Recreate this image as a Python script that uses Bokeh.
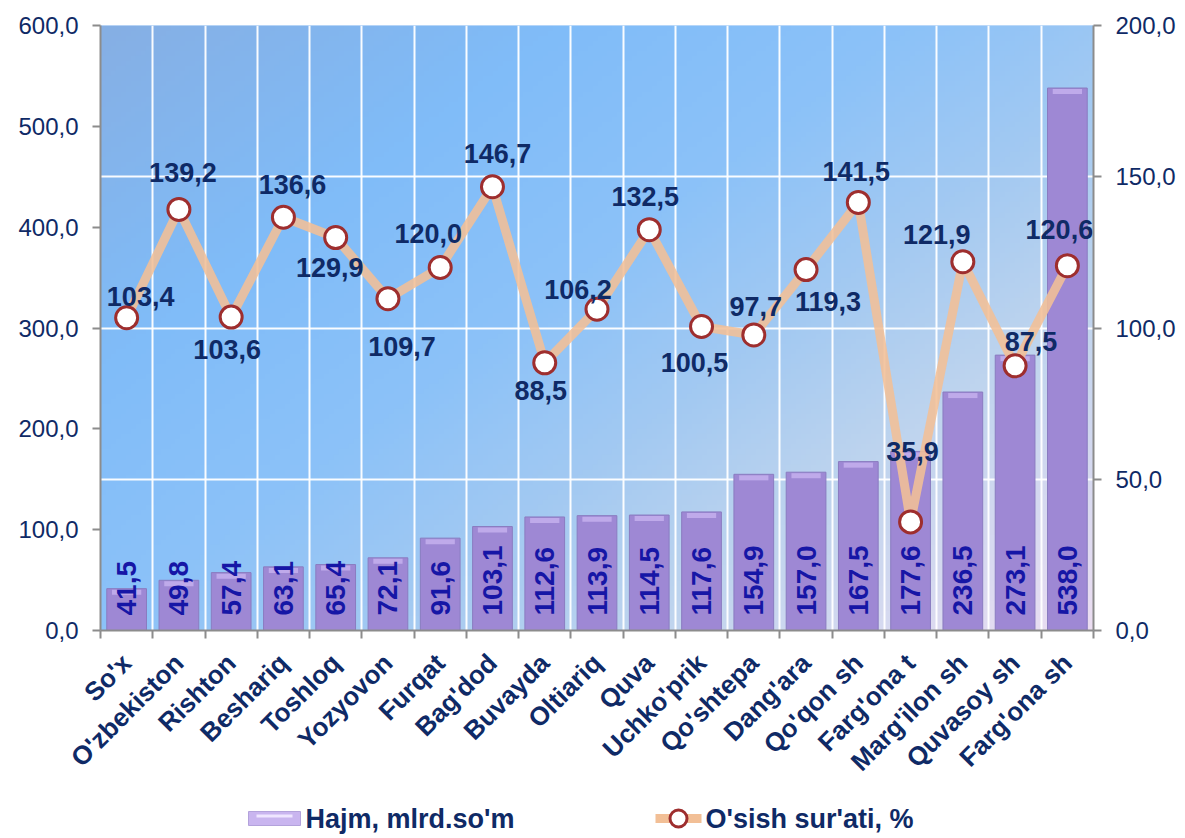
import numpy as np
from bokeh.plotting import figure
from bokeh.layouts import column
from bokeh.models import Range1d, LinearAxis, FixedTicker, ColumnDataSource
from bokeh.core.properties import value
from bokeh.embed import file_html
from bokeh.resources import INLINE

# ---------------- data ----------------
categories = ["So'x", "O'zbekiston", "Rishton", "Beshariq", "Toshloq", "Yozyovon",
              "Furqat", "Bag'dod", "Buvayda", "Oltiariq", "Quva", "Uchko'prik",
              "Qo'shtepa", "Dang'ara", "Qo'qon sh", "Farg'ona t", "Marg'ilon sh",
              "Quvasoy sh", "Farg'ona sh"]
volume = [41.5, 49.8, 57.4, 63.1, 65.4, 72.1, 91.6, 103.1, 112.6, 113.9, 114.5,
          117.6, 154.9, 157.0, 167.5, 177.6, 236.5, 273.1, 538.0]
growth = [103.4, 139.2, 103.6, 136.6, 129.9, 109.7, 120.0, 146.7, 88.5, 106.2,
          132.5, 100.5, 97.7, 119.3, 141.5, 35.9, 121.9, 87.5, 120.6]
left_ticks = [0, 100, 200, 300, 400, 500, 600]
right_ticks = [0, 50, 100, 150, 200]
series_names = ["Hajm, mlrd.so'm", "O'sish sur'ati, %"]

# label placement (screen px offsets) for the growth labels
label_dx = [14, 4, -4, 9, -6, 14, -12, 5, -4, -19, -4, -7, 2, 22, -2, 2, -26, 16, -8]
label_dy = [-21, -37, 32, -33, 30, 48, -34, -33, 28, -20, -33, 36, -28, 32, -31, -70, -27, -24, -36]

FONT = "Liberation Sans"
NAVY = "#0f2a66"
LINE_C = "#f2bf96"
BAR_C = "#9e88d4"


def fmt(v):
    return f"{v:.1f}".replace(".", ",")


n = len(categories)
xs = list(range(n))

W, H = 1180, 790
FRAME_L, FRAME_R = 100, 1093
p = figure(width=W, height=H, output_backend="svg", toolbar_location=None,
           x_range=Range1d(-0.5, n - 0.5), y_range=Range1d(0, 600),
           min_border_left=FRAME_L, min_border_right=W - FRAME_R, min_border_top=25,
           min_border_bottom=H - 632)
p.extra_y_ranges = {"right": Range1d(0, 200)}
p.outline_line_color = None
p.background_fill_color = "#8fbff5"
p.border_fill_color = "white"

# gradient background (style only)
ny, nx = 120, 200
u = np.linspace(0, 1, nx)[None, :]
vdown = np.linspace(1, 0, ny)[:, None]   # row 0 = bottom
t = 0.55 * u + 0.45 * vdown
stops_t = [0.0, 0.25, 0.45, 0.6, 0.75, 1.0]
stops_c = [(134, 175, 228), (128, 188, 248), (140, 194, 248), (162, 201, 242),
           (190, 212, 238), (236, 222, 242)]
img = np.empty((ny, nx), dtype=np.uint32)
view = img.view(dtype=np.uint8).reshape((ny, nx, 4))
for ch in range(3):
    view[:, :, ch] = np.interp(t, stops_t, [c[ch] for c in stops_c]).astype(np.uint8)
view[:, :, 3] = 255
p.image_rgba(image=[img], x=-0.5, y=0, dw=n, dh=600, level="image")

# grids
p.ygrid.ticker = FixedTicker(ticks=[150, 300, 450, 600])
p.xgrid.ticker = FixedTicker(ticks=[i + 0.5 for i in range(n - 1)])
for g in (p.xgrid[0], p.ygrid[0]):
    g.grid_line_color = "white"
    g.grid_line_width = 2
    g.grid_line_alpha = 0.95

# axes
p.yaxis.ticker = FixedTicker(ticks=left_ticks)
p.yaxis.major_label_overrides = {t_: fmt(t_) for t_ in left_ticks}
right_axis = LinearAxis(y_range_name="right", ticker=FixedTicker(ticks=right_ticks),
                        major_label_overrides={t_: fmt(t_) for t_ in right_ticks})
p.add_layout(right_axis, "right")

for ax in (p.yaxis[0], right_axis):
    ax.axis_line_color = "#8c8c8c"
    ax.axis_line_width = 2
    ax.major_tick_line_color = "#8c8c8c"
    ax.major_tick_line_width = 2
    ax.major_tick_out = 8
    ax.major_tick_in = 0
    ax.minor_tick_line_color = None
    ax.major_label_text_font = FONT
    ax.major_label_text_font_size = "24px"
    ax.major_label_text_color = NAVY
    ax.major_label_standoff = 14

xax = p.xaxis[0]
xax.ticker = FixedTicker(ticks=xs, minor_ticks=[i - 0.5 for i in range(n + 1)])
xax.major_label_overrides = {i: c for i, c in enumerate(categories)}
xax.axis_line_color = "#8c8c8c"
xax.axis_line_width = 2
xax.major_tick_line_color = None
xax.major_tick_out = 0
xax.minor_tick_line_color = "#8c8c8c"
xax.minor_tick_line_width = 2
xax.minor_tick_out = 8
xax.minor_tick_in = 0
xax.major_label_orientation = np.deg2rad(45)
xax.major_label_text_font = FONT
xax.major_label_text_font_style = "bold"
xax.major_label_text_font_size = "26px"
xax.major_label_text_color = NAVY
xax.major_label_standoff = 20

# bars
src = ColumnDataSource(dict(x=xs, vol=volume, vtop=[v - 1 for v in volume],
                            vbot=[v - 6 for v in volume],
                            vlab=[fmt(v) for v in volume],
                            zero=[0] * n))
p.vbar(x="x", top="vol", width=0.76, source=src, fill_color=BAR_C,
       line_color="#8a7cc0", line_width=1)
p.vbar(x="x", top="vtop", bottom="vbot", width=0.56, source=src,
       fill_color="#cdb9f4", fill_alpha=0.7, line_color=None)
p.text(x="x", y="zero", text="vlab", source=src, angle=np.pi / 2, y_offset=-15,
       text_align="left", text_baseline="middle", text_font=value(FONT),
       text_font_style="bold", text_font_size="28px", text_color="#1616a6")

# growth line
gsrc = ColumnDataSource(dict(x=xs, g=growth, glab=[fmt(v) for v in growth],
                             dx=label_dx, dy=label_dy))
p.line(x="x", y="g", source=gsrc, y_range_name="right",
       line_color=LINE_C, line_width=9, line_alpha=0.88)
p.scatter(x="x", y="g", source=gsrc, y_range_name="right", size=22,
          fill_color="white", line_color="#9e2e2e", line_width=3)
p.text(x="x", y="g", text="glab", source=gsrc, y_range_name="right",
       x_offset="dx", y_offset="dy", text_align="center", text_baseline="middle",
       text_font=value(FONT), text_font_style="bold", text_font_size="27px",
       text_color=NAVY)

# ---------------- legend strip (frame aligned with the chart frame) ----------------
LH = 46
lg = figure(width=W, height=LH, output_backend="svg", toolbar_location=None,
            x_range=Range1d(FRAME_L, FRAME_R), y_range=Range1d(0, LH),
            min_border_left=FRAME_L, min_border_right=W - FRAME_R, min_border_top=0,
            min_border_bottom=0)
lg.axis.visible = False
lg.grid.visible = False
lg.outline_line_color = None
lg.background_fill_color = "white"
lg.border_fill_color = "white"
yc = 18
lg.quad(left=[248], right=[300], bottom=[yc - 7], top=[yc + 7],
        fill_color="#c9b5ef", line_color="#b3a2db", line_width=1)
lg.quad(left=[256], right=[292], bottom=[yc + 1], top=[yc + 4],
        fill_color="#efe6ff", line_color=None)
lg.line(x=[655, 701], y=[yc, yc], line_color=LINE_C, line_width=9)
lg.scatter(x=[678], y=[yc], size=17, fill_color="white", line_color="#9e2e2e",
           line_width=3)
lg.text(x=[305, 705], y=[yc, yc], text=series_names, text_align="left",
        text_baseline="middle", text_font=value(FONT), text_font_style="bold",
        text_font_size="27px", text_color=NAVY)

layout = column(p, lg, spacing=0)
open("out.html", "w").write(file_html(layout, INLINE))
